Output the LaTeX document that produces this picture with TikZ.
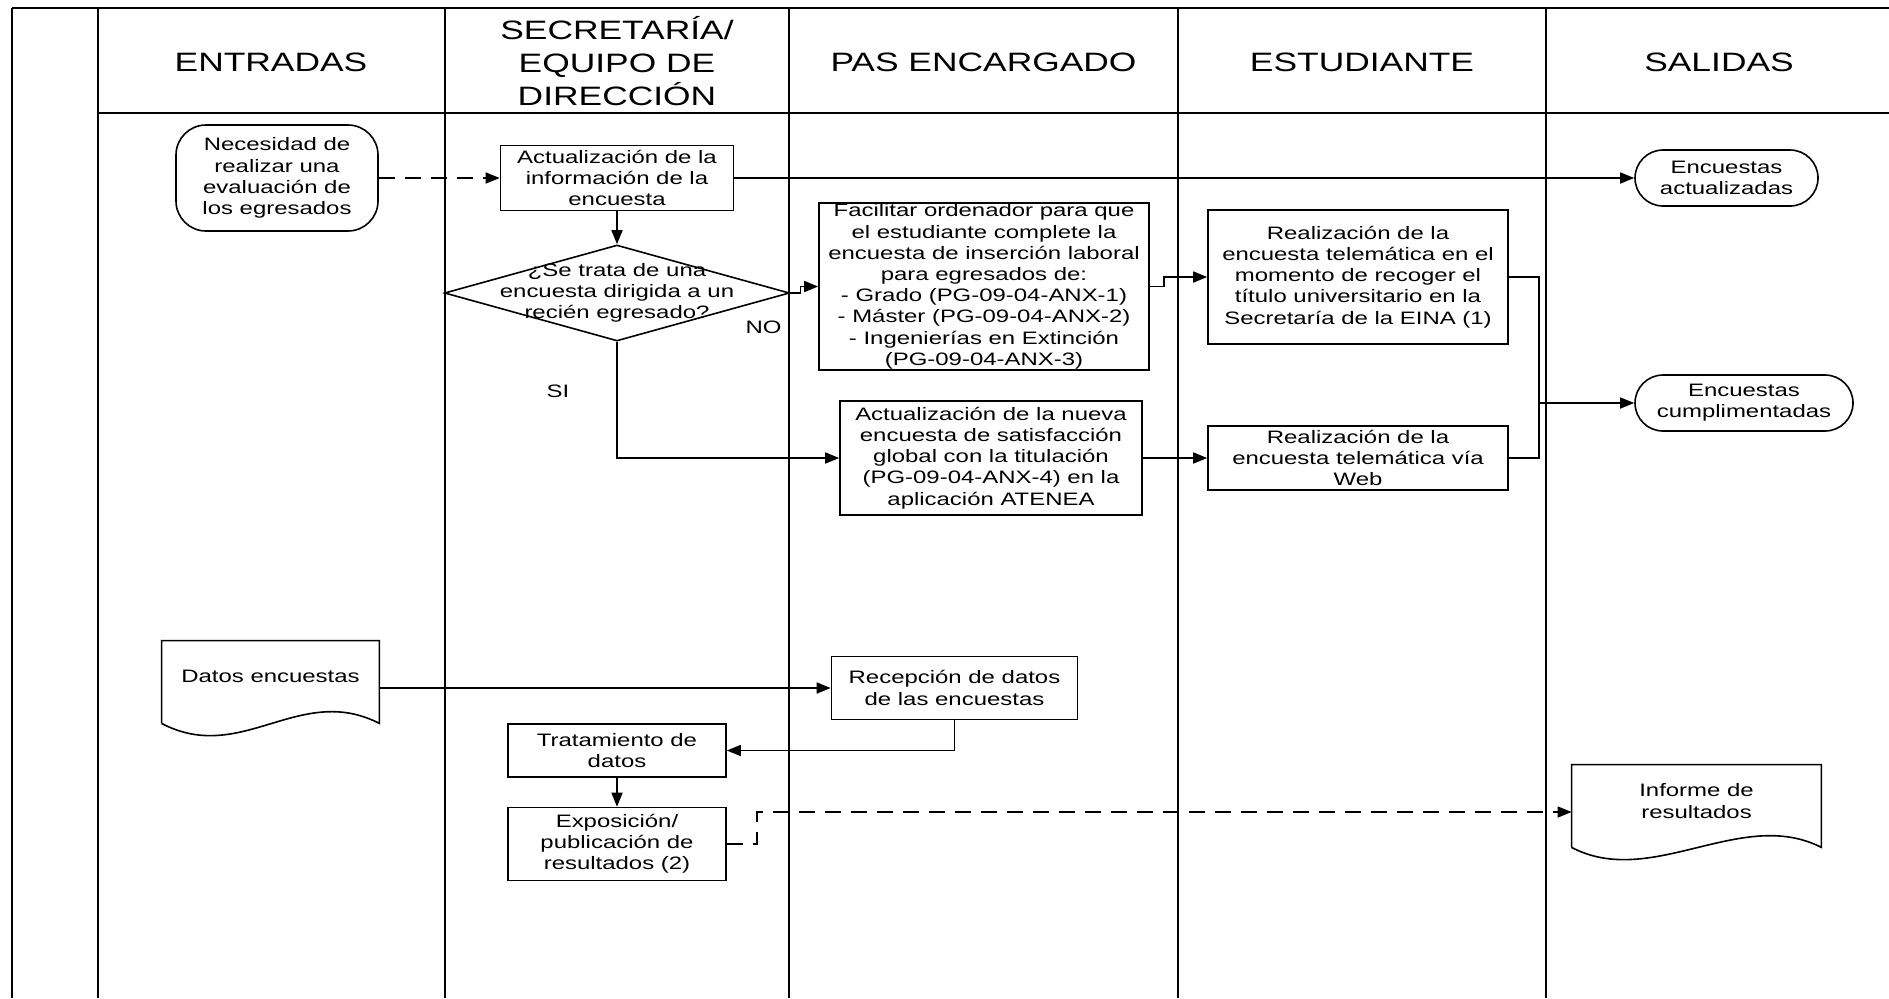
\documentclass[tikz,border=0pt]{standalone}
\usepackage{fontspec}
\setmainfont[FakeStretch=1.33]{Liberation Sans}
\usepackage{tikz}
\usetikzlibrary{arrows.meta,shapes.geometric}

\begin{document}
\begin{tikzpicture}[x=0.5pt,y=-0.5pt,
    lane/.style={line width=1pt},
    head/.style={font=\fontsize{13.3}{16.3}\selectfont, align=center},
    txt/.style={font=\fontsize{9}{10.6}\selectfont, align=center},
    proc/.style={txt, draw, line width=0.8pt, inner sep=0pt},
    term/.style={proc, rounded corners=14pt},
    decision/.style={diamond, draw, line width=0.8pt, inner sep=0pt},
    docu/.style={txt, inner sep=0pt},
    flow/.style={line width=0.8pt, -{Triangle[length=7pt,width=5.5pt]}},
    flowd/.style={flow, dash pattern=on 8pt off 5pt}]
    \useasboundingbox (0,0) rectangle (1889,998);

    % carriles
    \draw[lane] (12,8) -- (1889,8);
    \draw[lane] (97.5,113) -- (1889,113);
    \foreach \x in {12,97.5,444.5,789,1178,1546}
        \draw[lane] (\x,8) -- (\x,998);

    \node[head] (hEnt) at (271,62) {ENTRADAS};
    \node[head] (hSec) at (617,61) {SECRETARÍA/\\EQUIPO DE\\DIRECCIÓN};
    \node[head] (hPas) at (983.5,62) {PAS ENCARGADO};
    \node[head] (hEst) at (1362,62) {ESTUDIANTE};
    \node[head] (hSal) at (1719,62) {SALIDAS};

    \node[term, rounded corners=15pt, minimum width=101pt, minimum height=53pt] (nec) at (277,178) {Necesidad de\\realizar una\\evaluación de\\los egresados};
    \node[proc, minimum width=116.5pt, minimum height=32.5pt] (act) at (617,178) {Actualización de la\\información de la\\encuesta};
    \node[decision, minimum width=172.5pt, minimum height=48pt,
        label={[txt]center:{¿Se trata de una\\encuesta dirigida a un\\recién egresado?}}] (dec) at (617,293) {};
    \node[proc, minimum width=165pt, minimum height=83.5pt] (fac) at (984,286.5) {Facilitar ordenador para que\\el estudiante complete la\\encuesta de inserción laboral\\para egresados de:\\- Grado (PG-09-04-ANX-1)\\- Máster (PG-09-04-ANX-2)\\- Ingenierías en Extinción\\(PG-09-04-ANX-3)};
    \node[proc, minimum width=150pt, minimum height=67pt] (reA) at (1358,277) {Realización de la\\encuesta telemática en el\\momento de recoger el\\título universitario en la\\Secretaría de la EINA (1)};
    \node[term, minimum width=91.5pt, minimum height=28pt] (outA) at (1726.5,178) {Encuestas\\actualizadas};
    \node[term, minimum width=109pt, minimum height=28pt] (outB) at (1744,403) {Encuestas\\cumplimentadas};
    \node[proc, minimum width=151pt, minimum height=57pt] (aten) at (991,458) {Actualización de la nueva\\encuesta de satisfacción\\global con la titulación\\(PG-09-04-ANX-4) en la\\aplicación ATENEA};
    \node[proc, minimum width=150pt, minimum height=32pt] (reB) at (1358,458) {Realización de la\\encuesta telemática vía\\Web};
    \node[txt] (no) at (763.5,327) {NO};
    \node[txt] (si) at (558,391) {SI};

    \node[docu, minimum width=108.5pt, minimum height=41pt,
        label={[txt, yshift=3pt]center:Datos encuestas}] (datos) at (270.5,682) {};
    \node[proc, minimum width=123pt, minimum height=31.5pt] (rec) at (954.5,688) {Recepción de datos\\de las encuestas};
    \node[proc, minimum width=109pt, minimum height=26.5pt] (trat) at (617,750.5) {Tratamiento de\\datos};
    \node[proc, minimum width=109pt, minimum height=36.5pt] (expo) at (617,844) {Exposición/\\publicación de\\resultados (2)};
    \node[docu, minimum width=124.5pt, minimum height=41pt,
        label={[txt, yshift=2.5pt]center:{Informe de\\resultados}}] (inf) at (1696.5,806) {};

    % documentos con borde ondulado
    \foreach \d in {datos,inf}
        \draw[line width=0.8pt] (\d.south west) -- (\d.north west) -- (\d.north east) -- (\d.south east)
            .. controls +(-80,-41) and +(80,42) .. (\d.south west);

    \draw[flowd] (nec) -- (act);
    \draw[flow] (act) -- (outA);
    \draw[flow] (act) -- (dec);
    \draw[flow] (dec.east) -- ++(10,0) |- (fac.west);
    \draw[flow] (fac.east) -- ++(14,0) |- (reA.west);
    \draw[flow] (dec.south) |- (aten.west);
    \draw[flow] (aten) -- (reB);
    \coordinate (jn) at ([xshift=-47.5pt]outB.west);
    \draw[line width=0.8pt] (reA.east) -| (jn) (reB.east) -| (jn);
    \draw[flow] (jn) -- (outB);
    \draw[flow] ([yshift=-3pt]datos.east) -- ([yshift=-3pt]datos.east -| rec.west);
    \draw[flow] (rec.south) |- (trat.east);
    \draw[flow] (trat) -- (expo);
    \draw[flowd] (expo.east) -- ++(30,0) |- ([yshift=-3pt]inf.west);
\end{tikzpicture}
\end{document}
